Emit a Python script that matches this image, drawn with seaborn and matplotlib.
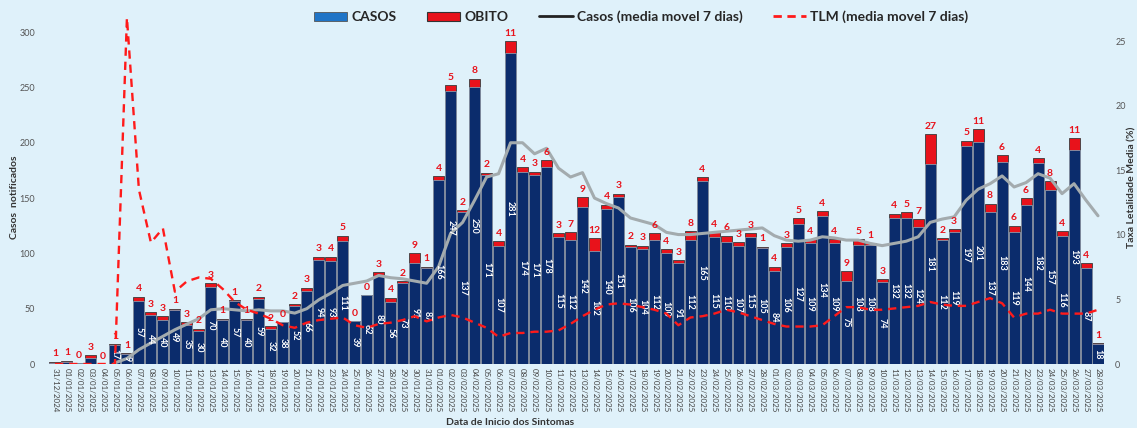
import numpy as np
import pandas as pd
import matplotlib
matplotlib.use("Agg")
import matplotlib.pyplot as plt
import seaborn as sns
from matplotlib.patches import Patch
from matplotlib.lines import Line2D

# datas de inicio dos sintomas (31/12/2024 a 28/03/2025)
datas = [d.strftime('%d/%m/%Y') for d in pd.date_range('2024-12-31', '2025-03-28')]

casos = [1, 2, 1, 5, 0, 17, 9, 57, 44, 40,
         49, 35, 30, 70, 40, 57, 40, 59, 32, 38,
         52, 66, 94, 93, 111, 39, 62, 80, 56, 73,
         91, 87, 166, 247, 137, 250, 171, 107, 281, 174,
         171, 178, 115, 112, 142, 102, 140, 151, 106, 104,
         112, 100, 91, 112, 165, 115, 110, 107, 115, 105,
         84, 106, 127, 109, 134, 109, 75, 108, 108, 74,
         132, 132, 124, 181, 112, 119, 197, 201, 137, 183,
         119, 144, 182, 157, 116, 193, 87, 18]

obitos = [1, 1, 0, 3, 0, 1, 1, 4, 3, 3,
          1, 3, 2, 3, 1, 1, 1, 2, 2, 0,
          2, 3, 3, 4, 5, 0, 0, 3, 4, 2,
          9, 1, 4, 5, 2, 8, 2, 4, 11, 4,
          3, 6, 3, 7, 9, 12, 4, 3, 2, 3,
          6, 4, 3, 8, 4, 4, 6, 3, 3, 1,
          4, 3, 5, 4, 4, 4, 9, 5, 1, 3,
          4, 5, 7, 27, 2, 3, 5, 11, 8, 6,
          6, 6, 4, 8, 4, 11, 4, 1]

# media movel 7 dias dos casos
casos_mm7 = [np.nan, np.nan, np.nan, np.nan, np.nan, 1, 5, 13, 19, 25,
             31, 36, 41, 49, 50, 49, 48, 49, 48, 48,
             46, 50, 58, 64, 71, 73, 75, 80, 78, 77,
             75, 73, 88, 118, 128, 148, 169, 172, 200, 200,
             190, 195, 177, 169, 173, 150, 145, 141, 132, 129,
             126, 119, 117, 117, 118, 119, 120, 121, 122, 123,
             116, 112, 111, 112, 115, 114, 112, 112, 109, 107,
             109, 111, 115, 128, 131, 133, 148, 158, 163, 170,
             160, 164, 172, 168, 154, 163, 148, 134]

# taxa de letalidade media (%) - media movel 7 dias
tlm_mm7 = [0, 0, 0, 0, 0, 0, 26.8, 13.5, 9.4, 10.5,
           5.6, 6.4, 6.7, 6.6, 5.8, 4.8, 4.2, 3.9, 3.5, 3.0,
           2.8, 3.2, 3.4, 3.5, 3.6, 3.0, 2.8, 3.1, 3.2, 3.4,
           3.7, 3.3, 3.6, 3.8, 3.6, 3.2, 2.8, 2.1, 2.4, 2.4,
           2.5, 2.5, 2.6, 3.1, 3.7, 4.2, 4.6, 4.7, 4.6, 4.4,
           4.2, 3.9, 3.0, 3.6, 3.7, 3.9, 4.2, 4.0, 3.7, 3.4,
           3.1, 2.9, 2.9, 2.9, 3.0, 3.7, 4.4, 4.4, 4.2, 4.2,
           4.3, 4.4, 4.5, 4.8, 4.6, 4.5, 4.5, 4.8, 5.1, 4.7,
           3.6, 3.9, 3.9, 4.2, 3.9, 3.9, 3.9, 4.2]

sns.set_style("white")
plt.rcParams['font.family'] = ['Lato', 'DejaVu Sans']

bg = '#dff1fa'
navy = '#0b2c6c'
red = '#e8121b'

df = pd.DataFrame({'pos': np.arange(len(datas)), 'casos': casos, 'obito': obitos})
df['total'] = df['casos'] + df['obito']

fig = plt.figure(figsize=(11.37, 4.28), dpi=100, facecolor=bg)
ax = fig.add_axes([49 / 1137, 1 - 364 / 428, 1055 / 1137, 354 / 428])
ax.set_facecolor(bg)

# barras empilhadas: total (vermelho) por baixo, casos (azul) por cima
sns.barplot(data=df, x='pos', y='total', color=red, edgecolor='#3a3a3a', linewidth=0.6,
            width=0.92, saturation=1, errorbar=None, ax=ax)
sns.barplot(data=df, x='pos', y='casos', color=navy, edgecolor='#8c98aa', linewidth=0.6,
            width=0.92, saturation=1, errorbar=None, ax=ax)

sns.lineplot(x=df['pos'], y=casos_mm7, ax=ax, color='#a3abae', linewidth=2.2)

for i, row in df.iterrows():
    ax.text(i, row['total'] + 3, str(row['obito']), color=red, ha='center', va='bottom',
            fontsize=7.5, fontweight='bold')
    if row['casos'] >= 9:
        ax.text(i, row['casos'] / 2, str(row['casos']), color='white', rotation=270,
                ha='center', va='center', fontsize=6.5, fontweight='bold')

ax.set_xlim(-0.5, len(datas) - 0.5)
ax.set_ylim(0, 320)
ax.set_yticks(range(0, 301, 50))
ax.set_xticks(df['pos'])
ax.set_xticklabels(datas, rotation=270, fontsize=5.8, color='#444444')
ax.tick_params(axis='both', length=0)
ax.tick_params(axis='y', labelsize=6.5, labelcolor='#555555', pad=10)
ax.tick_params(axis='x', pad=3)
ax.set_ylabel('Casos  notificados', fontsize=7.5, fontweight='bold', color='#333333')
ax.set_xlabel('Data de Inicio dos Sintomas', fontsize=7.5, fontweight='bold', color='#333333')
ax.xaxis.set_label_coords(0.437, -0.152)
ax.yaxis.set_label_coords(-0.028, 0.47)

ax2 = ax.twinx()
sns.lineplot(x=df['pos'], y=tlm_mm7, ax=ax2, color='#ff1a1a', linewidth=1.7,
             linestyle=(0, (3.5, 2.5)))
ax2.set_ylim(0, 27.4)
ax2.set_yticks(range(0, 26, 5))
ax2.tick_params(axis='y', length=0, labelsize=6.5, labelcolor='#555555', pad=8)
ax2.set_ylabel('Taxa Letalidade Media (%)', fontsize=7.5, fontweight='bold', color='#333333')
ax2.yaxis.set_label_coords(1.022, 0.5)

for a in (ax, ax2):
    for s in a.spines.values():
        s.set_visible(False)

handles = [
    Patch(facecolor='#1f74c6', edgecolor='#555555', linewidth=0.6, label='CASOS'),
    Patch(facecolor=red, edgecolor='#333333', linewidth=0.8, label='OBITO'),
    Line2D([0], [0], color='#222222', linewidth=2, label='Casos (media movel 7 dias)'),
    Line2D([0], [0], color='#ff1a1a', linewidth=2, linestyle=(0, (3, 2)), label='TLM (media movel 7 dias)'),
]
fig.legend(handles=handles, loc='center', bbox_to_anchor=(0.564, 0.96), ncol=4, frameon=False,
           prop={'weight': 'bold', 'size': 10}, handlelength=2.4, columnspacing=2.2,
           handletextpad=0.3)

fig.savefig('out.png', dpi=100, facecolor=bg)
